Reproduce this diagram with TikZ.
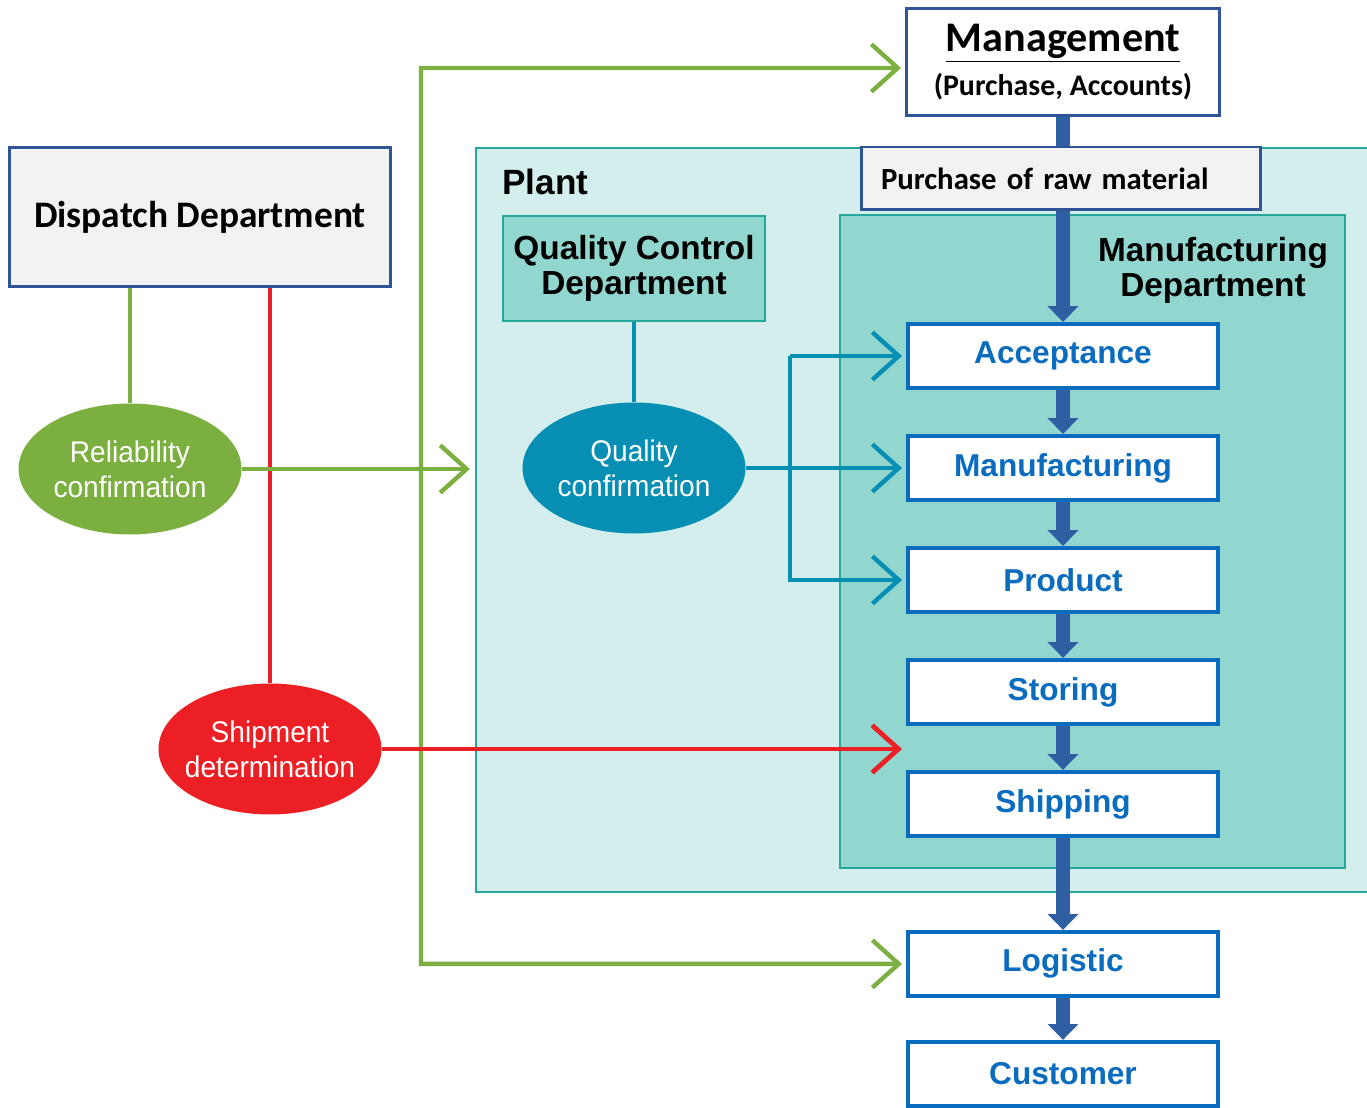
\documentclass[tikz,border=0pt]{standalone}
\usepackage{fontspec}
\setmainfont{Liberation Sans}
\newfontfamily\calibrifont{Carlito}
\newfontfamily\narrowfont[FakeStretch=0.94]{Liberation Sans}
\usetikzlibrary{arrows.meta,positioning,shapes.geometric}
\definecolor{navyline}{HTML}{2F5597}
\definecolor{procblue}{HTML}{0A6CBF}
\definecolor{flowblue}{HTML}{2E5FA3}
\definecolor{leafgreen}{HTML}{7BAF3F}
\definecolor{alertred}{HTML}{EC2024}
\definecolor{qcteal}{HTML}{068FB3}
\definecolor{plantfill}{HTML}{D3EEEC}
\definecolor{deptfill}{HTML}{92D6D0}
\definecolor{deptline}{HTML}{25A89B}
\definecolor{boxgray}{HTML}{F2F2F2}

\begin{document}
\begin{tikzpicture}[x=0.02cm,y=-0.02cm,node distance=2.24cm,on grid,
    procbox/.style={draw=procblue,line width=2.3pt,fill=white,minimum width=6.22cm,minimum height=1.28cm,inner sep=0pt,text=procblue,font=\fontsize{18}{21}\selectfont\bfseries},
    topbox/.style={draw=navyline,line width=1.7pt,fill=boxgray,inner sep=0pt,align=center,font=\calibrifont\bfseries},
    deptbox/.style={draw=deptline,line width=1.1pt,fill=deptfill,inner sep=0pt},
    bubble/.style={ellipse,minimum width=4.46cm,minimum height=2.62cm,inner xsep=-10pt,inner ysep=0pt,text=white,align=center,font=\narrowfont\fontsize{17}{20}\selectfont},
    flow/.style={draw=flowblue,line width=8pt,-{Triangle[width=17pt,length=9pt]}},
    barb/.style={-{Straight Barb[length=15pt,width=27pt]},shorten >=2pt},
    grnline/.style={draw=leafgreen,line width=2.5pt},
    redline/.style={draw=alertred,line width=2.7pt},
    tealline/.style={draw=qcteal,line width=2.5pt,line join=miter}]
  \useasboundingbox (0,0) rectangle (1367,1108);

  % plant and its departments
  \node[deptbox,fill=plantfill,minimum width=17.92cm,minimum height=14.88cm] (plant) at (924,520) {};
  \node[anchor=base west,inner sep=0pt,font=\fontsize{20}{24}\selectfont\bfseries] (plantlbl) at (502,195) {Plant};
  \node[deptbox,minimum width=10.1cm,minimum height=13.06cm] (mfgdept) at (1092.5,541.5) {};
  \node[align=center,font=\fontsize{19}{20}\selectfont\bfseries] (mfglbl) at (1213,270) {Manufacturing\\Department};
  \node[deptbox,minimum width=5.24cm,minimum height=2.10cm,align=center,font=\fontsize{19}{20}\selectfont\bfseries] (qc) at (634,268.5) {Quality Control\\Department};
  \node[bubble,fill=qcteal] (qual) at (634,468) {Quality\\confirmation};

  % main flow
  \node[topbox,fill=white,minimum width=6.28cm,minimum height=2.14cm] (mgmt) at (1063,62)
    {\fontsize{24}{26}\selectfont\underline{Management}\\[5pt]\fontsize{17}{19}\selectfont(Purchase, Accounts)};
  \node[procbox] (acc) at (1063,356) {Acceptance};
  \node[procbox] (mfg) [below=of acc] {Manufacturing};
  \node[procbox] (prod) [below=of mfg] {Product};
  \node[procbox] (stor) [below=of prod] {Storing};
  \node[procbox] (ship) [below=of stor] {Shipping};
  \node[procbox] (log) [below=3.2cm of ship] {Logistic};
  \node[procbox] (cust) [below=2.2cm of log] {Customer};

  \path (mgmt) edge[flow] (acc)
        (acc)  edge[flow] (mfg)
        (mfg)  edge[flow] (prod)
        (prod) edge[flow] (stor)
        (stor) edge[flow] (ship)
        (ship) edge[flow] (log)
        (log)  edge[flow] (cust);

  \node[topbox,text width=7.2cm,inner xsep=0.4cm,minimum height=1.26cm,align=left,font=\calibrifont\bfseries\fontsize{17.5}{20}\selectfont] (purch) at (1061,178.5) {Purchase of raw material};

  % dispatch side
  \node[topbox,minimum width=7.62cm,minimum height=2.78cm,font=\calibrifont\bfseries\fontsize{21.3}{24}\selectfont] (disp) at (200,217) {Dispatch Department};
  \node[bubble,fill=leafgreen] (rel) at (130,469) {Reliability\\confirmation};
  \node[bubble,fill=alertred] (shipdet) at (270,749) {Shipment\\determination};

  \coordinate (gtop) at (421,68);
  \coordinate (qv) at (790,468);

  \draw[redline] (shipdet |- disp.south) -- (shipdet);
  \draw[grnline] (rel |- disp.south) -- (rel);
  \draw[grnline,{Straight Barb[length=15pt,width=27pt]}-{Straight Barb[length=15pt,width=27pt]},shorten <=2pt,shorten >=2pt]
    ([yshift=-0.12cm]mgmt.west) -- (gtop) |- (log.west);
  \draw[grnline,barb,shorten >=3pt] (rel) -- (rel -| plant.west);
  \draw[redline,barb] (shipdet) -- (shipdet -| stor.west);

  \draw[tealline] (qc) -- (qual);
  \draw[tealline,barb] (qual) -- (qual -| mfg.west);
  \draw[tealline,barb] (qv |- acc) -- (acc);
  \draw[tealline,barb] (qv |- acc) -- (qv |- prod) -- (prod);
\end{tikzpicture}
\end{document}
